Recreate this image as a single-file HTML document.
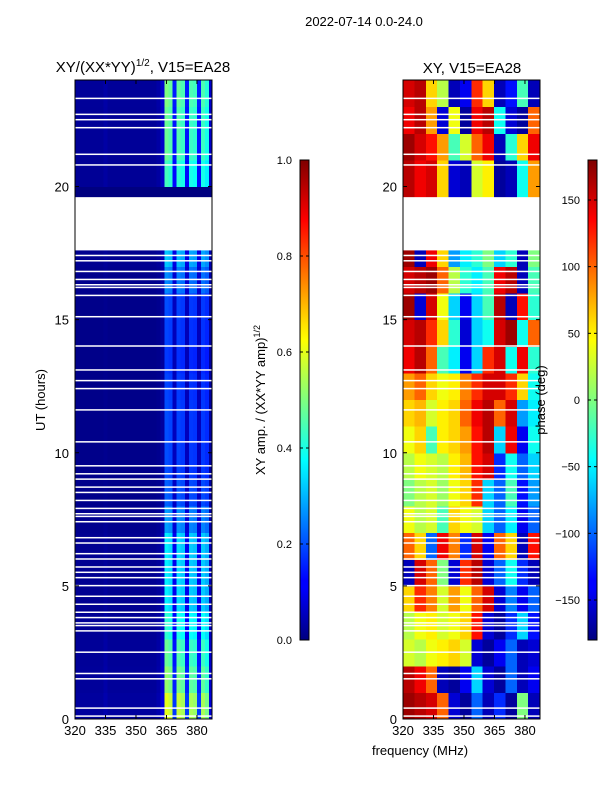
<!DOCTYPE html>
<html><head><meta charset="utf-8">
<style>
body{margin:0;background:#fff;}
svg{display:block;font-family:"Liberation Sans","DejaVu Sans",sans-serif;}
</style></head>
<body>
<svg id="fig" width="600" height="800" viewBox="0 0 600 800">
<defs>
<linearGradient id="jet" x1="0" y1="1" x2="0" y2="0">
<stop offset="0" stop-color="#00007f"/><stop offset="0.11" stop-color="#0000ff"/>
<stop offset="0.125" stop-color="#0000ff"/><stop offset="0.34" stop-color="#00dfff"/>
<stop offset="0.375" stop-color="#00ffff"/><stop offset="0.5" stop-color="#7fff7f"/>
<stop offset="0.625" stop-color="#ffff00"/><stop offset="0.66" stop-color="#ffdf00"/>
<stop offset="0.875" stop-color="#ff0000"/><stop offset="1" stop-color="#7f0000"/>
</linearGradient>
</defs>
<text x="364" y="26" font-size="13" text-anchor="middle">2022-07-14 0.0-24.0</text>
<g id="ampPanel"></g>
<g id="phasePanel"></g>
<text x="143" y="72" font-size="15" text-anchor="middle">XY/(XX*YY)<tspan font-size="10" dy="-6">1/2</tspan><tspan dy="6">, V15=EA28</tspan></text>
<text x="472" y="73" font-size="15" text-anchor="middle">XY, V15=EA28</text>
<text transform="translate(45,400) rotate(-90)" font-size="13" text-anchor="middle">UT (hours)</text>
<text transform="translate(265,400) rotate(-90)" font-size="13" text-anchor="middle">XY amp. / (XX*YY amp)<tspan font-size="9" dy="-5">1/2</tspan></text>
<text transform="translate(545,400) rotate(-90)" font-size="13" text-anchor="middle">phase (deg)</text>
<text x="420" y="755" font-size="13" text-anchor="middle">frequency (MHz)</text>
<g id="cb1"></g>
<g id="cb2"></g>
</svg>
<script>
// ---- data ----
const ampFreqEdges = [320,322,324,326,328,330,332,334,336,338,340,342,344,346,348,350,352,354,356,358,360,362,364,366,368,370,372,374,376,378,380,382,384,386,388];
const ampColProfile = [0.02,0.02,0.02,0.02,0.02,0.02,0.02,0.03,0.02,0.02,0.02,0.02,0.02,0.02,0.02,0.02,0.02,0.02,0.02,0.02,0.03,0.06,0.4,0.38,0.12,0.38,0.36,0.12,0.36,0.35,0.12,0.36,0.33,0.06];
const ampHours = [0,1,2,3,4,5,6,7,8,9,10,11,12,13,14,15,16,17,18,19,20,21,22,23];
const ampRowGain = [1.5,1.3,1.2,1.05,0.9,0.9,0.9,0.7,0.55,0.5,0.5,0.5,0.48,0.45,0.48,0.5,0.65,0.8,0,0,1.1,1.2,1.2,1.25];
const phaseFreqEdges = [320,325.6,331.2,336.8,342.4,348,353.6,359.2,364.8,370.4,376,381.6,387];
const phaseRows = [
[170,160,150,100,-150,-170,-100,-160,-120,-170,0,-160],
[160,140,100,-160,-170,-140,-60,-150,-170,-100,-160,-140],
[30,20,40,50,60,30,-150,-170,-140,-100,-160,-150],
[20,40,50,30,40,60,130,-150,-170,-120,-60,-130],
[60,120,90,30,80,40,100,150,-150,-90,-140,-100],
[-160,150,100,0,-150,120,160,-150,-100,-40,-120,-160],
[100,60,-100,140,90,-120,150,-140,100,60,-160,130],
[40,20,30,-20,60,40,30,-60,-100,-50,-140,-100],
[0,20,30,10,40,60,120,-60,-100,-20,-130,-80],
[20,40,30,20,50,70,130,150,-120,-40,-100,-60],
[40,60,-20,50,60,80,130,160,-60,140,-140,-40],
[60,70,30,50,60,100,140,160,100,150,-80,-50],
[80,100,60,40,50,90,120,150,150,120,60,-40],
[140,160,100,-20,-50,-140,-60,120,150,-40,140,-30],
[150,160,120,60,-30,-150,-60,-40,150,170,-40,100],
[170,-150,150,40,-60,-140,-60,-20,160,-160,130,-30],
[150,160,170,100,20,-30,-50,-20,140,160,-160,-20],
[170,-160,140,60,-80,-50,-30,0,-60,-30,-160,0],
[0,0,0,0,0,0,0,0,0,0,0,0],
[160,140,150,60,-150,-160,30,50,-170,-160,-40,80],
[160,140,150,60,-150,-160,30,50,-170,-160,-40,80],
[170,150,130,80,-20,30,100,140,-160,-30,60,140],
[140,160,80,-150,40,-170,140,160,-40,-150,-170,100],
[150,160,60,20,-160,-140,120,60,-160,-130,-20,-160]
];
const gapHours = [17.6,19.6];
const flagHours = [0.1,0.4,1.5,1.7,2.5,3.3,3.5,3.6,3.8,4.0,4.3,4.6,5.0,5.3,5.5,5.7,6.0,6.2,6.6,6.8,7.4,7.6,7.7,7.9,8.2,8.5,8.7,9.0,9.2,9.5,10.4,11.6,12.4,12.7,13.1,14.0,15.1,15.9,16.2,16.3,16.5,16.8,17.2,17.4,20.8,21.2,22.2,22.5,22.7,23.3];
const xTicks = [320,335,350,365,380];
const yTicks = [0,5,10,15,20];
const ampCbTicks = [0.0,0.2,0.4,0.6,0.8,1.0];
const phaseCbTicks = [-150,-100,-50,0,50,100,150];

// ---- geometry ----
const NS='http://www.w3.org/2000/svg';
const plotTop=80, plotBot=719, fMin=320, fMax=387.4, hMax=24;
function yScale(h){return plotBot-(h/hMax)*(plotBot-plotTop);}
function mk(tag,attrs,parent){const e=document.createElementNS(NS,tag);for(const k in attrs)e.setAttribute(k,attrs[k]);parent.appendChild(e);return e;}
function jet(v){v=Math.max(0,Math.min(1,v));
 const r=Math.max(0,Math.min(1,1.5-Math.abs(4*v-3))),g=Math.max(0,Math.min(1,1.5-Math.abs(4*v-2))),b=Math.max(0,Math.min(1,1.5-Math.abs(4*v-1)));
 return 'rgb('+Math.round(r*255)+','+Math.round(g*255)+','+Math.round(b*255)+')';}

function drawPanel(g,x0,x1,kind){
 const xs=f=>x0+(f-fMin)/(fMax-fMin)*(x1-x0);
 const xc=f=>Math.min(x1,xs(f));
 if(kind==='amp'){
  for(let r=0;r<ampHours.length;r++){
   for(let c=0;c<ampColProfile.length;c++){
    const v=ampColProfile[c]*ampRowGain[r];
    const cell=mk('rect',{x:xs(ampFreqEdges[c]),y:yScale(ampHours[r]+1),width:Math.max(0,xc(ampFreqEdges[c+1])-xs(ampFreqEdges[c])),height:yScale(ampHours[r])-yScale(ampHours[r]+1)+0.5,fill:jet(v),'shape-rendering':'crispEdges'},g);
    
    
   }
  }
 } else {
  for(let r=0;r<phaseRows.length;r++){
   for(let c=0;c<phaseRows[r].length;c++){
    const v=(phaseRows[r][c]+180)/360;
    const cell=mk('rect',{x:xs(phaseFreqEdges[c]),y:yScale(r+1),width:Math.max(0,xc(phaseFreqEdges[c+1])-xs(phaseFreqEdges[c])+0.5),height:yScale(r)-yScale(r+1)+0.5,fill:jet(v),'shape-rendering':'crispEdges'},g);
    
    
   }
  }
 }
 for(const h of flagHours){
  const fl=mk('rect',{x:x0,y:yScale(h)-1,width:x1-x0,height:1.5,fill:'#fff'},g);
  
  
 }
 const gap=mk('rect',{x:x0,y:yScale(gapHours[1]),width:x1-x0,height:yScale(gapHours[0])-yScale(gapHours[1]),fill:'#fff'},g);
 
 
 const fr=mk('rect',{x:x0,y:plotTop,width:x1-x0,height:plotBot-plotTop,fill:'none',stroke:'#000','stroke-width':1},g);
 
 
 for(const t of xTicks){
  const x=xs(t);
  mk('line',{x1:x,x2:x,y1:plotBot,y2:plotBot-4,stroke:'#000'},g);
  mk('line',{x1:x,x2:x,y1:plotTop,y2:plotTop+4,stroke:'#000'},g);
  const tl=mk('text',{x:x,y:plotBot+16,'font-size':13,'text-anchor':'middle'},g);
  tl.textContent=t;
  
  
 }
 for(const t of yTicks){
  const y=yScale(t);
  mk('line',{x1:x0,x2:x0+4,y1:y,y2:y,stroke:'#000'},g);
  mk('line',{x1:x1,x2:x1-4,y1:y,y2:y,stroke:'#000'},g);
  const tl=mk('text',{x:x0-6,y:y+5,'font-size':13,'text-anchor':'end'},g);
  tl.textContent=t;
  
  
 }
}
drawPanel(document.getElementById('ampPanel'),75,212,'amp');
drawPanel(document.getElementById('phasePanel'),403,540,'phase');

function drawCb(g,x,vmin,vmax,ticks,fmt){
 const top=160,bot=640;
 const bar=mk('rect',{x:x,y:top,width:9,height:bot-top,fill:'url(#jet)',stroke:'#000','stroke-width':1},g);
 
 
 for(const t of ticks){
  const y=bot-(t-vmin)/(vmax-vmin)*(bot-top);
  mk('line',{x1:x,x2:x+3,y1:y,y2:y,stroke:'#000'},g);
  mk('line',{x1:x+9,x2:x+6,y1:y,y2:y,stroke:'#000'},g);
  const tl=mk('text',{x:x-8,y:y+4,'font-size':11,'text-anchor':'end'},g);
  tl.textContent=fmt(t);
  
  
 }
}
drawCb(document.getElementById('cb1'),300,0,1,ampCbTicks,t=>t.toFixed(1));
drawCb(document.getElementById('cb2'),588,-180,180,phaseCbTicks,t=>t<0?'\u2212'+(-t):String(t));
</script>
</body></html>
